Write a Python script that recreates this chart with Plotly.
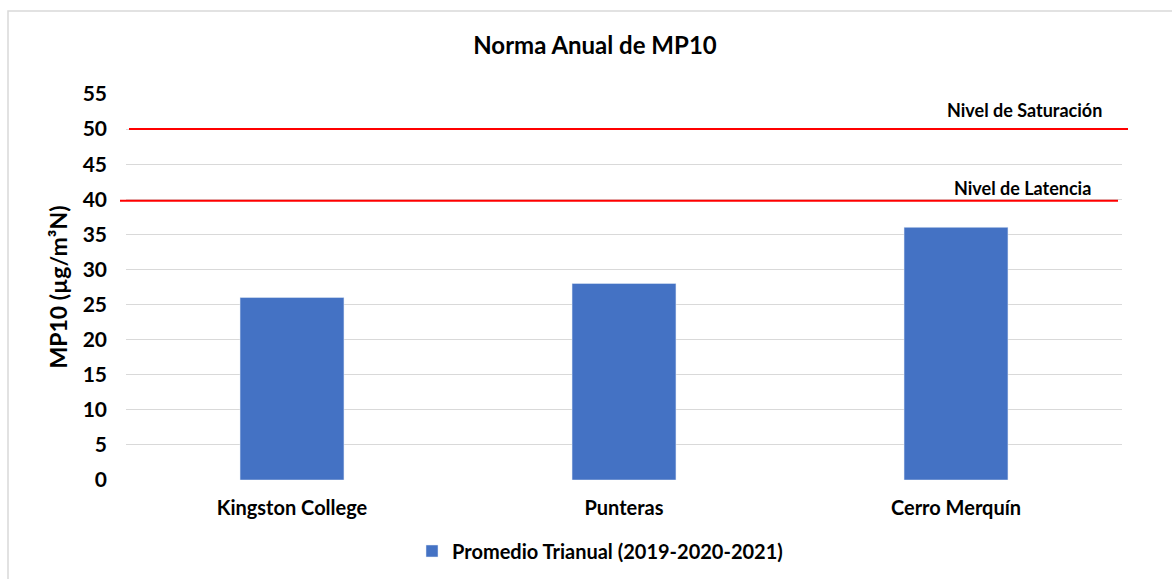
import plotly.graph_objects as go

categories = ["Kingston College", "Punteras", "Cerro Merquín"]
values = [26, 28, 36]
series_name = "Promedio Trianual (2019-2020-2021)"
saturacion = 50
latencia = 39.8
y_ticks = list(range(0, 60, 5))

W, H = 1172, 579
L, R, T, B = 126, 50, 94, 99
PW, PH = W - L - R, H - T - B

def px(x):
    return (x - L) / PW

def py(y):
    return (H - B - y) / PH

FONT = "Lato"

fig = go.Figure()
fig.add_trace(go.Bar(
    x=categories, y=values, name=series_name,
    marker=dict(color="#4472C4"), width=0.313,
    showlegend=True,
))

fig.update_layout(
    width=W, height=H,
    margin=dict(l=L, r=R, t=T, b=B, autoexpand=False),
    paper_bgcolor="white", plot_bgcolor="white",
    font=dict(family=FONT, color="#000000", size=15, weight="bold"),
    title=dict(text="Norma Anual de MP10", x=595 / W, xref="container", xanchor="center",
               y=1 - 46 / H, yref="container", yanchor="middle",
               font=dict(family=FONT, size=24, weight="bold", color="#000")),
    xaxis=dict(showgrid=False, zeroline=False, showline=False, ticks="", automargin=False,
               ticklabelstandoff=14,
               tickfont=dict(family=FONT, size=20, weight="bold")),
    yaxis=dict(range=[0, 55], tickvals=y_ticks, showgrid=True, gridcolor="#D9D9D9",
               gridwidth=1, zeroline=False, showline=False, ticks="", automargin=False,
               ticklabelstandoff=18,
               tickfont=dict(family=FONT, size=21, weight="bold"),
               title=dict(text="MP10 (µg/m³N)", standoff=8,
                          font=dict(family=FONT, size=23, weight="bold"))),
    legend=dict(orientation="h", x=600 / W, xref="container", xanchor="center",
                y=1 - 551 / H, yref="container", yanchor="middle",
                font=dict(family=FONT, size=20, weight="bold"), itemwidth=30),
    bargap=0.687,
    showlegend=True,
)

# reference lines
fig.add_shape(type="line", xref="paper", yref="y", x0=px(129), x1=px(1128),
              y0=saturacion, y1=saturacion, line=dict(color="#FF0000", width=2))
fig.add_shape(type="line", xref="paper", yref="y", x0=px(120), x1=px(1118),
              y0=latencia, y1=latencia, line=dict(color="#FF0000", width=2))

fig.add_annotation(text="Nivel de Saturación", xref="paper", yref="paper",
                   x=px(1104), xanchor="right", y=py(110), yanchor="middle",
                   showarrow=False, font=dict(family=FONT, size=18, weight="bold"))
fig.add_annotation(text="Nivel de Latencia", xref="paper", yref="paper",
                   x=px(1093), xanchor="right", y=py(188), yanchor="middle",
                   showarrow=False, font=dict(family=FONT, size=18, weight="bold"))

# chart frame
fig.add_shape(type="rect", xref="paper", yref="paper",
              x0=px(8), x1=px(1190), y0=py(11), y1=py(600),
              line=dict(color="#D9D9D9", width=1.5), layer="below")

fig.write_html("out.html", config={"displayModeBar": False},
               post_script="document.body.style.margin='0px';document.body.style.overflow='hidden';")
